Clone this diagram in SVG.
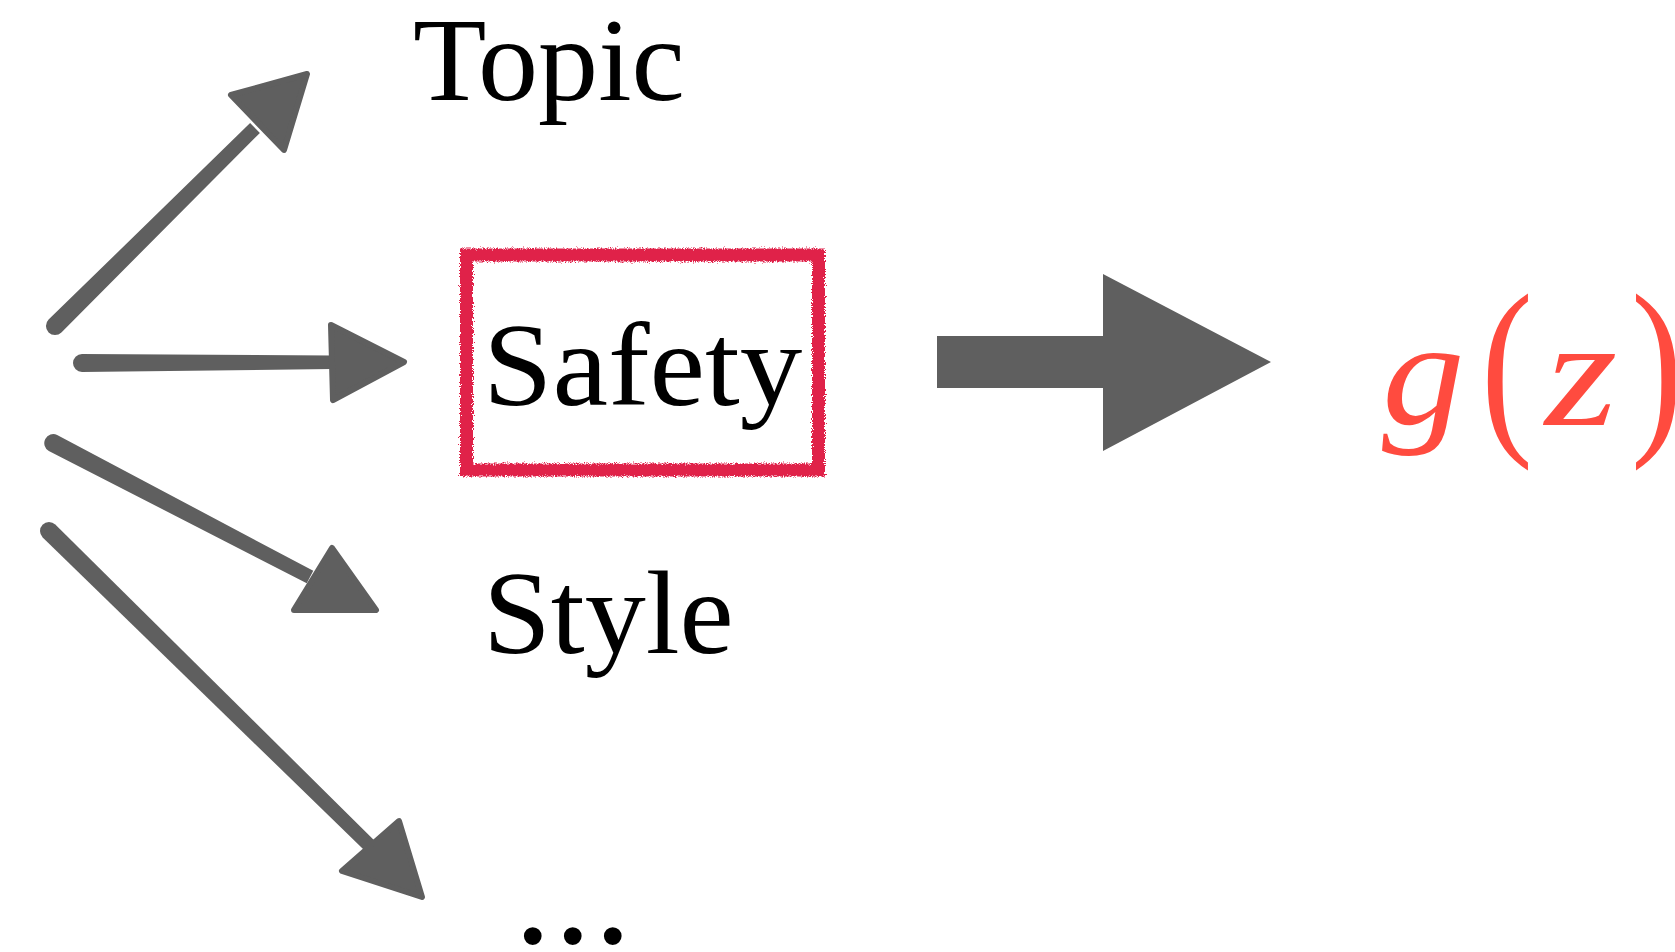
<svg xmlns="http://www.w3.org/2000/svg" width="1675" height="952" viewBox="0 0 1675 952">
  <defs>
    <style>
      .lbl { font-family: "Liberation Serif", "Times New Roman", serif; font-size: 119px; fill: #000; }
      .math { font-family: "Liberation Serif", "Times New Roman", serif; fill: #FF4B3F; }
      .ink { fill: #5F5F5F; }
      .head { fill: #5F5F5F; stroke: #5F5F5F; stroke-width: 6; stroke-linejoin: round; }
    </style>
    <filter id="rough" x="-5%" y="-5%" width="110%" height="110%">
      <feTurbulence type="fractalNoise" baseFrequency="0.9" numOctaves="2" seed="3" result="n"/>
      <feDisplacementMap in="SourceGraphic" in2="n" scale="6" xChannelSelector="R" yChannelSelector="G"/>
    </filter>
  </defs>
  <rect width="1675" height="952" fill="#fff"/>

  <g id="connectors">
    <!-- to Topic -->
    <path class="ink" d="M 48.6,319.6 L 250.1,123.1 L 259.9,132.9 L 61.4,332.4 A 9 9 0 0 1 48.6,319.6 Z"/>
    <polygon class="head" points="231,95 307,74 284,150"/>
    <!-- to Safety -->
    <path class="ink" d="M 82,354 L 332,355.5 L 332,369 L 82,372 A 9 9 0 0 1 82,354 Z"/>
    <polygon class="head" points="331,325 404,362 333,400"/>
    <!-- to Style -->
    <path class="ink" d="M 57.17,435.03 L 313.24,570.8 L 306.76,583.2 L 48.83,450.97 A 9 9 0 0 1 57.17,435.03 Z"/>
    <polygon class="head" points="332,548 376,610 294,610"/>
    <!-- to ... -->
    <path class="ink" d="M 55.3,524.57 L 374.9,841.0 L 365.1,851.0 L 42.7,537.43 A 9 9 0 0 1 55.3,524.57 Z"/>
    <polygon class="head" points="399,821 342,871 422,897"/>
    <!-- big arrow to g(z) -->
    <polygon class="ink" points="937,336 1103,336 1103,274 1271,362 1103,451 1103,388 937,388"/>
  </g>

  <g id="topic">
    <text class="lbl" transform="translate(413,100) scale(1.01,1)">Topic</text>
  </g>

  <g id="safety">
    <rect x="466.5" y="255" width="352" height="215" fill="none" stroke="#E0204A" stroke-width="13" filter="url(#rough)"/>
    <text class="lbl" transform="translate(483,405) scale(1.05,1)">Safety</text>
  </g>

  <g id="style">
    <text class="lbl" transform="translate(483,653) scale(1.025,1)">Style</text>
  </g>

  <g id="more">
    <text class="lbl" x="514" y="943" style="font-size:150px; letter-spacing:2.5px">...</text>
  </g>

  <g id="gz">
    <text class="math" transform="translate(1382,424) scale(1.1,1)" font-size="150" font-style="italic">g</text>
    <text class="math" transform="translate(1481,429) scale(0.8,1)" font-size="195">(</text>
    <text class="math" transform="translate(1545,425) scale(1.2,1)" font-size="155" font-style="italic">z</text>
    <text class="math" transform="translate(1631,429) scale(0.8,1)" font-size="195">)</text>
  </g>
</svg>
